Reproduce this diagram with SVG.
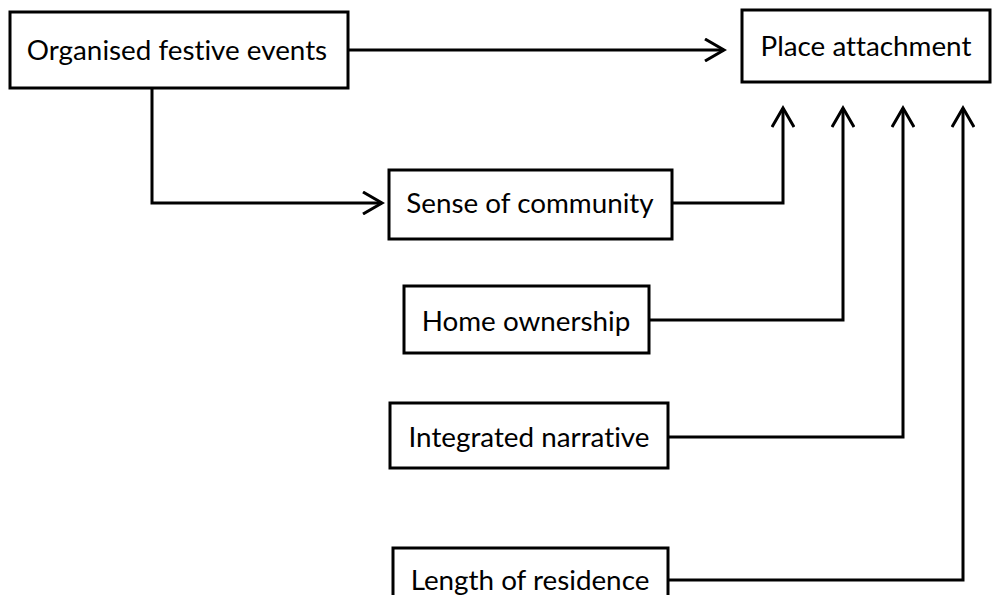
<svg xmlns="http://www.w3.org/2000/svg" width="995" height="595" viewBox="0 0 995 595">
<defs>
<style>
.box{fill:#fff;stroke:#000;stroke-width:3}
.lbl{font-family:Lato,"Open Sans",sans-serif;font-size:27.8px;fill:#000;text-anchor:middle;dominant-baseline:central;font-variant-ligatures:none}
.con{fill:none;stroke:#000;stroke-width:3}
</style>
<marker id="arr" viewBox="0 0 24 24" refX="21" refY="12" markerWidth="24" markerHeight="24" markerUnits="userSpaceOnUse" orient="auto">
<path d="M2,1 L21,12 L2,23" fill="none" stroke="#000" stroke-width="3"/>
</marker>
</defs>
<rect width="995" height="595" fill="#fff"/>
<g id="connectors">
<path class="con" d="M348,50 H724" marker-end="url(#arr)"/>
<path class="con" d="M152,88 V203 H382" marker-end="url(#arr)"/>
<path class="con" d="M672,203 H783 V108" marker-end="url(#arr)"/>
<path class="con" d="M649,320 H843 V108" marker-end="url(#arr)"/>
<path class="con" d="M668,437 H903 V108" marker-end="url(#arr)"/>
<path class="con" d="M668,580 H963 V108" marker-end="url(#arr)"/>
</g>
<g id="festive"><rect class="box" x="10" y="12" width="338" height="76"/><text class="lbl" x="177" y="49">Organised festive events</text></g>
<g id="place"><rect class="box" x="742" y="10" width="248" height="72"/><text class="lbl" x="866" y="45">Place attachment</text></g>
<g id="community"><rect class="box" x="389" y="170" width="283" height="69"/><text class="lbl" x="530" y="202">Sense of community</text></g>
<g id="home"><rect class="box" x="404" y="286" width="245" height="67"/><text class="lbl" x="526" y="320">Home ownership</text></g>
<g id="narrative"><rect class="box" x="390" y="403" width="278" height="65"/><text class="lbl" x="529" y="436">Integrated narrative</text></g>
<g id="residence"><rect class="box" x="393" y="548" width="275" height="60"/><text class="lbl" x="530" y="579">Length of residence</text></g>
</svg>
